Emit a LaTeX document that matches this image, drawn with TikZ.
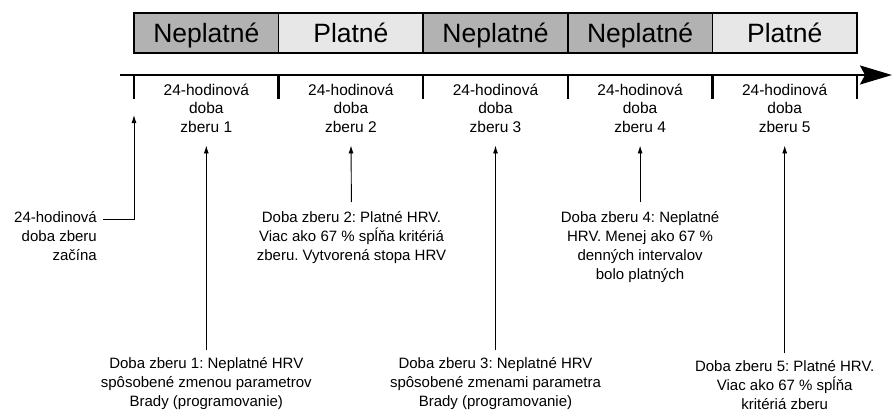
\documentclass[tikz,border=0pt]{standalone}
\usepackage{fontspec}
\setmainfont{Liberation Sans}
\usetikzlibrary{arrows.meta}
\frenchspacing

\begin{document}
\begin{tikzpicture}[
    x=1pt, y=-1pt,
    segbox/.style={draw=black, line width=1.6pt, minimum width=144.6pt, minimum height=40pt, inner sep=0pt, text height=24pt, text depth=4pt, font=\fontsize{26.5}{30}\selectfont},
    perlabel/.style={align=center, inner sep=1pt, font=\fontsize{15.5}{18.5}\selectfont},
    notelabel/.style={align=center, inner sep=1pt, font=\fontsize{15}{19}\selectfont},
    tickmark/.style={line width=2.4pt},
    notearrow/.style={-{Latex[length=8pt,width=5pt]}, line width=0.9pt}
]

% Colors
\definecolor{nepfill}{RGB}{178,178,178}
\definecolor{platfill}{RGB}{231,231,231}

\useasboundingbox (0,0) rectangle (892,412);

% Validity bar
\node[segbox, fill=nepfill] (seg1) at (206.3,33) {Neplatné};
\node[segbox, fill=platfill] (seg2) at (350.9,33) {Platné};
\node[segbox, fill=nepfill] (seg3) at (495.5,33) {Neplatné};
\node[segbox, fill=nepfill] (seg4) at (640.1,33) {Neplatné};
\node[segbox, fill=platfill] (seg5) at (784.7,33) {Platné};

% Time axis
\coordinate (axisstart) at (120,75);
\coordinate (axisend) at (892,75);
\draw[line width=2pt, -{Stealth[length=32pt,width=19pt,inset=5pt]}] (axisstart) -- (axisend);

% Ticks
\coordinate (t0) at (134,75);
\coordinate (t1) at (278.6,75);
\coordinate (t2) at (423.2,75);
\coordinate (t3) at (567.8,75);
\coordinate (t4) at (712.4,75);
\coordinate (t5) at (857,75);
\draw[tickmark] (t0) -- ++(0,24);
\draw[tickmark] (t1) -- ++(0,24);
\draw[tickmark] (t2) -- ++(0,24);
\draw[tickmark] (t3) -- ++(0,24);
\draw[tickmark] (t4) -- ++(0,24);
\draw[tickmark] (t5) -- ++(0,24);

% Collection periods
\node[perlabel] (per1) at (206.3,108) {24-hodinová\\doba\\zberu 1};
\node[perlabel] (per2) at (350.9,108) {24-hodinová\\doba\\zberu 2};
\node[perlabel] (per3) at (495.5,108) {24-hodinová\\doba\\zberu 3};
\node[perlabel] (per4) at (640.1,108) {24-hodinová\\doba\\zberu 4};
\node[perlabel] (per5) at (784.7,108) {24-hodinová\\doba\\zberu 5};

% Notes
\node[notelabel, align=right, anchor=north east] (start) at (98,210) {24-hodinová\\doba zberu\\začína};
\node[notelabel, anchor=north] (note2) at (351.5,210) {Doba zberu 2: Platné HRV.\\Viac ako 67 \% spĺňa kritériá\\zberu. Vytvorená stopa HRV};
\node[notelabel, anchor=north] (note4) at (640.1,210) {Doba zberu 4: Neplatné\\HRV. Menej ako 67 \%\\denných intervalov\\bolo platných};
\node[notelabel, anchor=south] (note1) at (206.3,411) {Doba zberu 1: Neplatné HRV\\spôsobené zmenou parametrov\\Brady (programovanie)};
\node[notelabel, anchor=south] (note3) at (495.5,411) {Doba zberu 3: Neplatné HRV\\spôsobené zmenami parametra\\Brady (programovanie)};
\node[notelabel, anchor=south] (note5) at (784.7,411) {Doba zberu 5: Platné HRV.\\Viac ako 67 \% spĺňa\\kritériá zberu};

% Arrows
\draw[notearrow] ([xshift=5pt,yshift=-9pt]start.north east) -| ([yshift=-40pt]t0);
\draw[notearrow, shorten <=6pt, shorten >=12pt] (note1.north) -- (per1.south);
\draw[notearrow, shorten <=8pt, shorten >=12pt] (note2.north) -- (per2.south);
\draw[notearrow, shorten <=6pt, shorten >=12pt] (note3.north) -- (per3.south);
\draw[notearrow, shorten <=8pt, shorten >=12pt] (note4.north) -- (per4.south);
\draw[notearrow, shorten <=6pt, shorten >=12pt] (note5.north) -- (per5.south);

\end{tikzpicture}
\end{document}
